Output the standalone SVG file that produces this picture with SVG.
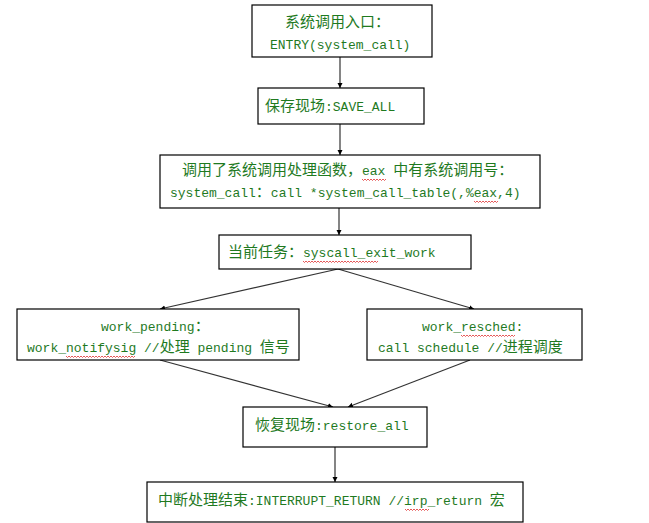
<svg xmlns="http://www.w3.org/2000/svg" width="649" height="523" viewBox="0 0 649 523">
<style>
.box{fill:#fff;stroke:#000;stroke-width:1.2}
.t{font-family:"Liberation Mono","Noto Sans CJK SC",monospace;font-size:13px;fill:#1f7a1f}
.z{font-family:"Noto Sans CJK SC","Liberation Mono",sans-serif;font-size:15px}
.c{stroke:#333;stroke-width:1.2;fill:none;marker-end:url(#ah)}
.sq{stroke:#e03030;stroke-width:0.8;fill:none}
</style>
<defs>
<marker id="ah" markerWidth="6" markerHeight="6" refX="5" refY="3" orient="auto" markerUnits="userSpaceOnUse">
<path d="M0,0.5 L5,3 L0,5.5 Z" fill="#000"/>
</marker>
</defs>
<rect width="649" height="523" fill="#fff"/>
<g id="connectors">
<line class="c" x1="340" y1="57" x2="340" y2="88"/>
<line class="c" x1="340" y1="124" x2="340" y2="155"/>
<line class="c" x1="339" y1="208" x2="339" y2="235"/>
<line class="c" x1="338" y1="269" x2="160" y2="309"/>
<line class="c" x1="338" y1="269" x2="474" y2="309"/>
<line class="c" x1="160" y1="360" x2="333" y2="407"/>
<line class="c" x1="470" y1="360" x2="348" y2="407"/>
<line class="c" x1="335" y1="447" x2="335" y2="482"/>
</g>
<g id="n1">
<rect class="box" x="252" y="5" width="180" height="52"/>
<text class="t" x="285" y="27"><tspan class="z">系统调用入口：</tspan></text>
<text class="t" x="270" y="49">ENTRY(system_call)</text>
</g>
<g id="n2">
<rect class="box" x="258" y="88" width="166" height="36"/>
<text class="t" x="265" y="111"><tspan class="z">保存现场</tspan>:SAVE_ALL</text>
</g>
<g id="n3">
<rect class="box" x="160" y="155" width="380" height="53"/>
<text class="t" x="182" y="175"><tspan class="z">调用了系统调用处理函数，</tspan>eax <tspan class="z">中有系统调用号：</tspan></text>
<text class="t" x="170" y="197">system_call<tspan class="z">：</tspan>call *system_call_table(,%eax,4)</text>
<path class="sq" d="M362,179 l1.5,1.5 l1.5,-1.5 l1.5,1.5 l1.5,-1.5 l1.5,1.5 l1.5,-1.5 l1.5,1.5 l1.5,-1.5 l1.5,1.5 l1.5,-1.5 l1.5,1.5 l1.5,-1.5 l1.5,1.5 l1.5,-1.5 l1.5,1.5 l1.5,-1.5"/>
<path class="sq" d="M474,201 l1.5,1.5 l1.5,-1.5 l1.5,1.5 l1.5,-1.5 l1.5,1.5 l1.5,-1.5 l1.5,1.5 l1.5,-1.5 l1.5,1.5 l1.5,-1.5 l1.5,1.5 l1.5,-1.5 l1.5,1.5 l1.5,-1.5 l1.5,1.5 l1.5,-1.5"/>
</g>
<g id="n4">
<rect class="box" x="219" y="235" width="252" height="34"/>
<text class="t" x="228" y="257"><tspan class="z">当前任务：</tspan>syscall_exit_work</text>
<path class="sq" d="M303,261 l1.5,1.5 l1.5,-1.5 l1.5,1.5 l1.5,-1.5 l1.5,1.5 l1.5,-1.5 l1.5,1.5 l1.5,-1.5 l1.5,1.5 l1.5,-1.5 l1.5,1.5 l1.5,-1.5 l1.5,1.5 l1.5,-1.5 l1.5,1.5 l1.5,-1.5 l1.5,1.5 l1.5,-1.5 l1.5,1.5 l1.5,-1.5 l1.5,1.5 l1.5,-1.5 l1.5,1.5 l1.5,-1.5 l1.5,1.5 l1.5,-1.5 l1.5,1.5 l1.5,-1.5 l1.5,1.5 l1.5,-1.5 l1.5,1.5 l1.5,-1.5 l1.5,1.5 l1.5,-1.5 l1.5,1.5 l1.5,-1.5 l1.5,1.5 l1.5,-1.5 l1.5,1.5 l1.5,-1.5 l1.5,1.5 l1.5,-1.5 l1.5,1.5 l1.5,-1.5 l1.5,1.5 l1.5,-1.5 l1.5,1.5 l1.5,-1.5 l1.5,1.5 l1.5,-1.5"/>
</g>
<g id="n5">
<rect class="box" x="17" y="309" width="282" height="51"/>
<text class="t" x="101" y="331">work_pending<tspan class="z">：</tspan></text>
<text class="t" x="27" y="352">work_notifysig //<tspan class="z">处理</tspan> pending <tspan class="z">信号</tspan></text>
<path class="sq" d="M66,356 l1.5,1.5 l1.5,-1.5 l1.5,1.5 l1.5,-1.5 l1.5,1.5 l1.5,-1.5 l1.5,1.5 l1.5,-1.5 l1.5,1.5 l1.5,-1.5 l1.5,1.5 l1.5,-1.5 l1.5,1.5 l1.5,-1.5 l1.5,1.5 l1.5,-1.5 l1.5,1.5 l1.5,-1.5 l1.5,1.5 l1.5,-1.5 l1.5,1.5 l1.5,-1.5 l1.5,1.5 l1.5,-1.5 l1.5,1.5 l1.5,-1.5 l1.5,1.5 l1.5,-1.5 l1.5,1.5 l1.5,-1.5 l1.5,1.5 l1.5,-1.5 l1.5,1.5 l1.5,-1.5 l1.5,1.5 l1.5,-1.5 l1.5,1.5 l1.5,-1.5 l1.5,1.5 l1.5,-1.5 l1.5,1.5 l1.5,-1.5 l1.5,1.5 l1.5,-1.5 l1.5,1.5 l1.5,-1.5"/>
</g>
<g id="n6">
<rect class="box" x="367" y="309" width="215" height="51"/>
<text class="t" x="422" y="331">work_resched:</text>
<text class="t" x="378" y="352">call schedule //<tspan class="z">进程调度</tspan></text>
<path class="sq" d="M461,335 l1.5,1.5 l1.5,-1.5 l1.5,1.5 l1.5,-1.5 l1.5,1.5 l1.5,-1.5 l1.5,1.5 l1.5,-1.5 l1.5,1.5 l1.5,-1.5 l1.5,1.5 l1.5,-1.5 l1.5,1.5 l1.5,-1.5 l1.5,1.5 l1.5,-1.5 l1.5,1.5 l1.5,-1.5 l1.5,1.5 l1.5,-1.5 l1.5,1.5 l1.5,-1.5 l1.5,1.5 l1.5,-1.5 l1.5,1.5 l1.5,-1.5 l1.5,1.5 l1.5,-1.5 l1.5,1.5 l1.5,-1.5 l1.5,1.5 l1.5,-1.5 l1.5,1.5 l1.5,-1.5 l1.5,1.5 l1.5,-1.5"/>
</g>
<g id="n7">
<rect class="box" x="243" y="407" width="184" height="40"/>
<text class="t" x="255" y="430"><tspan class="z">恢复现场</tspan>:restore_all</text>
</g>
<g id="n8">
<rect class="box" x="147" y="482" width="376" height="40"/>
<text class="t" x="158" y="505"><tspan class="z">中断处理结束</tspan>:INTERRUPT_RETURN //irp_return <tspan class="z">宏</tspan></text>
<path class="sq" d="M405,509 l1.5,1.5 l1.5,-1.5 l1.5,1.5 l1.5,-1.5 l1.5,1.5 l1.5,-1.5 l1.5,1.5 l1.5,-1.5 l1.5,1.5 l1.5,-1.5 l1.5,1.5 l1.5,-1.5 l1.5,1.5 l1.5,-1.5 l1.5,1.5 l1.5,-1.5"/>
</g>
</svg>
